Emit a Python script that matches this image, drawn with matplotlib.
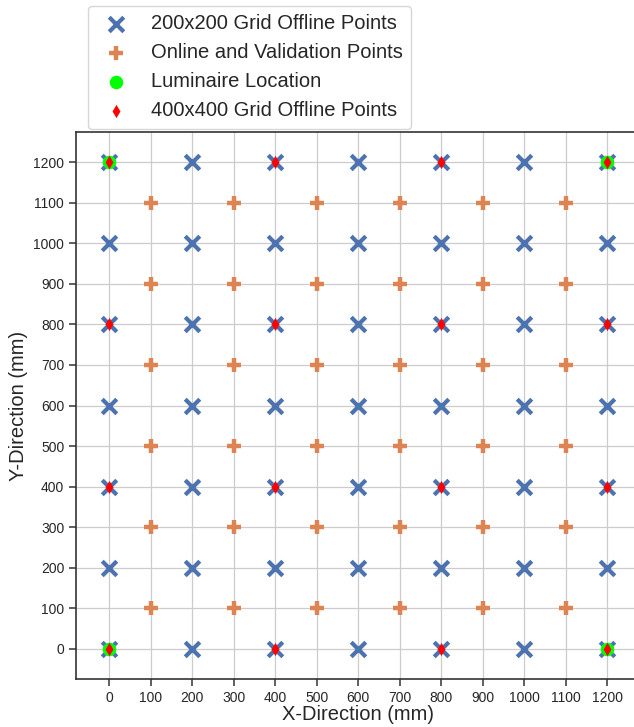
import numpy as np
import matplotlib
matplotlib.use("Agg")
import matplotlib.pyplot as plt

plt.rcParams['font.family'] = ['Liberation Sans', 'DejaVu Sans']

# grid coordinates (mm)
grid_200 = [0, 200, 400, 600, 800, 1000, 1200]
grid_400 = [0, 400, 800, 1200]
online_pos = [100, 300, 500, 700, 900, 1100]
lum_x = [0, 0, 1200, 1200]
lum_y = [0, 1200, 0, 1200]
ticks = [0, 100, 200, 300, 400, 500, 600, 700, 800, 900, 1000, 1100, 1200]

gx200, gy200 = np.meshgrid(grid_200, grid_200)
gx400, gy400 = np.meshgrid(grid_400, grid_400)
ox, oy = np.meshgrid(online_pos, online_pos)

fig = plt.figure(figsize=(6.34, 7.27), dpi=100)
ax = fig.add_axes([76 / 634, 48 / 727, 564.4 / 634, 547 / 727])

ax.scatter(gx200.ravel(), gy200.ravel(), marker='x', s=110, linewidths=3,
           color='#4c72b0', label='200x200 Grid Offline Points', zorder=3)
ax.scatter(ox.ravel(), oy.ravel(), marker='+', s=90, linewidths=3.2,
           color='#dd8452', label='Online and Validation Points', zorder=3)
ax.scatter(lum_x, lum_y, marker='o', s=95, linewidths=0,
           color='#00ff00', label='Luminaire Location', zorder=4)
ax.scatter(gx400.ravel(), gy400.ravel(), marker='d', s=45, linewidths=0,
           color='red', label='400x400 Grid Offline Points', zorder=5)

ax.set_xlim(-80, 1280)
ax.set_ylim(-75, 1275)
ax.set_xticks(ticks)
ax.set_yticks(ticks)
ax.grid(True, color='#cccccc', linewidth=0.9, zorder=0)
ax.set_axisbelow(True)
for side in ax.spines.values():
    side.set_color('#333333')
    side.set_linewidth(1.2)
ax.tick_params(axis='both', direction='out', length=5, width=1.1,
               color='#333333', labelsize=10, labelcolor='#262626', pad=3.5)

ax.set_xlabel('X-Direction (mm)', fontsize=14.5, color='#262626', labelpad=0)
ax.set_ylabel('Y-Direction (mm)', fontsize=14.5, color='#262626', labelpad=4)

leg = ax.legend(loc='lower left', bbox_to_anchor=(0.021, 1.006),
                borderaxespad=0, fontsize=14.5, frameon=True,
                handletextpad=0.7, labelspacing=0.5, borderpad=0.42)
leg.get_frame().set_edgecolor('#cccccc')
for t in leg.get_texts():
    t.set_color('#262626')

fig.savefig('out.png', dpi=100)
